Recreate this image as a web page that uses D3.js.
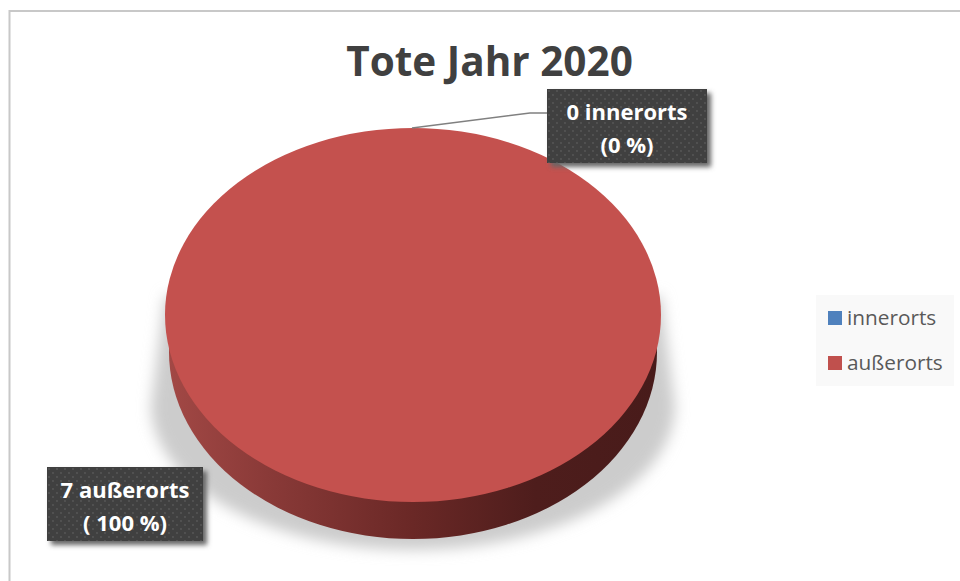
<!DOCTYPE html>
<html>
<head>
<meta charset="utf-8">
<script src="https://cdn.jsdelivr.net/npm/d3@7"></script>
<style>
  html, body { margin: 0; padding: 0; background: #fff; }
  svg { display: block; font-family: "Open Sans", sans-serif; }
</style>
</head>
<body>
<div id="chart"></div>
<script>
const chartTitle = 'Tote Jahr 2020';
const categories = ['innerorts', 'außerorts'];
const values = [0, 7];
const percentLabels = ['(0 %)', '( 100 %)'];
const sliceColors = ['#4f81bd', '#c0504d'];

const width = 960, height = 581;
const cx = 413, cy = 315, rx = 248, ry = 187, depth = 37;

const svg = d3.select('#chart').append('svg')
    .attr('width', width)
    .attr('height', height);

const defs = svg.append('defs');

defs.append('filter').attr('id', 'floorBlur')
    .attr('x', '-10%').attr('y', '-10%').attr('width', '120%').attr('height', '120%')
    .append('feGaussianBlur').attr('stdDeviation', 7);

defs.append('filter').attr('id', 'boxBlur')
    .attr('x', '-10%').attr('y', '-20%').attr('width', '120%').attr('height', '140%')
    .append('feGaussianBlur').attr('stdDeviation', 2.5);

const sideGrad = defs.append('linearGradient').attr('id', 'sideGrad');
[[0, '#a24845'], [0.2, '#8a3a38'], [0.5, '#6a2826'], [0.75, '#4e1d1c'], [1, '#481b1a']]
    .forEach(([o, c]) => sideGrad.append('stop').attr('offset', o).attr('stop-color', c));

const dots = defs.append('pattern').attr('id', 'dots')
    .attr('width', 8).attr('height', 8)
    .attr('patternUnits', 'userSpaceOnUse');
dots.append('rect').attr('width', 8).attr('height', 8).attr('fill', '#404040');
dots.append('circle').attr('cx', 2).attr('cy', 2).attr('r', 0.9).attr('fill', '#585858');
dots.append('circle').attr('cx', 6).attr('cy', 6).attr('r', 0.9).attr('fill', '#585858');

// chart frame, only top and left show in the crop
svg.append('path')
    .attr('d', d3.line()([[9.5, height], [9.5, 11], [width, 11]]))
    .attr('fill', 'none')
    .attr('stroke', '#c8c8c8')
    .attr('stroke-width', 2);

// soft shadow on the floor under the pie
const shadowRx = rx + 14, shadowRy = 145, shadowY = 405;
svg.append('path')
    .attr('d', `M${cx - rx},296 L${cx - shadowRx},${shadowY} `
        + `A${shadowRx},${shadowRy} 0 0 0 ${cx + shadowRx},${shadowY} L${cx + rx},296 Z`)
    .attr('fill', '#cccccc')
    .attr('filter', 'url(#floorBlur)');

// pie side wall, a slightly narrower ellipse sitting below the top
svg.append('ellipse')
    .attr('cx', cx)
    .attr('cy', cy + depth)
    .attr('rx', rx - 4)
    .attr('ry', ry)
    .attr('fill', 'url(#sideGrad)');

// pie top, drawn on a unit circle and squashed into the ellipse
const pie = d3.pie().sort(null)(values);
const arc = d3.arc().innerRadius(0).outerRadius(1);
svg.append('g')
    .attr('transform', `translate(${cx},${cy}) scale(${rx},${ry})`)
    .selectAll('path')
    .data(pie)
    .join('path')
    .attr('d', arc)
    .attr('fill', (d, i) => i === 1 ? '#c4514e' : sliceColors[i]);

// title
svg.append('text')
    .attr('x', 489.5)
    .attr('y', 76)
    .attr('text-anchor', 'middle')
    .attr('font-size', 40.5)
    .attr('font-weight', 700)
    .attr('fill', '#404040')
    .text(chartTitle);

// leader line to the zero slice
svg.append('path')
    .attr('d', d3.line()([[412, 128], [530, 113], [547, 113]]))
    .attr('fill', 'none')
    .attr('stroke', '#808080')
    .attr('stroke-width', 1.5);

// data labels
const labelBoxes = [
    { x: 547, y: 89, w: 160, h: 74 },
    { x: 47, y: 467, w: 156, h: 74 }
];
const labels = svg.selectAll('g.label')
    .data(categories)
    .join('g')
    .attr('class', 'label')
    .attr('transform', (d, i) => `translate(${labelBoxes[i].x},${labelBoxes[i].y})`);

labels.append('rect')
    .attr('x', 4).attr('y', 4)
    .attr('width', (d, i) => labelBoxes[i].w)
    .attr('height', (d, i) => labelBoxes[i].h)
    .attr('fill', '#666')
    .attr('filter', 'url(#boxBlur)');

labels.append('rect')
    .attr('width', (d, i) => labelBoxes[i].w)
    .attr('height', (d, i) => labelBoxes[i].h)
    .attr('fill', 'url(#dots)');

labels.append('text')
    .attr('x', (d, i) => labelBoxes[i].w / 2)
    .attr('y', 31)
    .attr('text-anchor', 'middle')
    .attr('font-size', 22)
    .attr('font-weight', 700)
    .attr('fill', '#fff')
    .text((d, i) => `${values[i]} ${d}`);

labels.append('text')
    .attr('x', (d, i) => labelBoxes[i].w / 2)
    .attr('y', 64)
    .attr('text-anchor', 'middle')
    .attr('font-size', 22)
    .attr('font-weight', 700)
    .attr('fill', '#fff')
    .text((d, i) => percentLabels[i]);

// legend
svg.append('rect')
    .attr('x', 816).attr('y', 295)
    .attr('width', 138).attr('height', 91)
    .attr('fill', '#f9f9f9');

const legendY = d3.scalePoint().domain(categories).range([318, 363]);

const legend = svg.selectAll('g.legend')
    .data(categories)
    .join('g')
    .attr('class', 'legend')
    .attr('transform', d => `translate(828,${legendY(d)})`);

legend.append('rect')
    .attr('y', -7)
    .attr('width', 14)
    .attr('height', 14)
    .attr('fill', (d, i) => sliceColors[i]);

legend.append('text')
    .attr('x', 19)
    .attr('y', 7)
    .attr('font-size', 20.8)
    .attr('fill', '#595959')
    .text(d => d);
</script>
</body>
</html>
